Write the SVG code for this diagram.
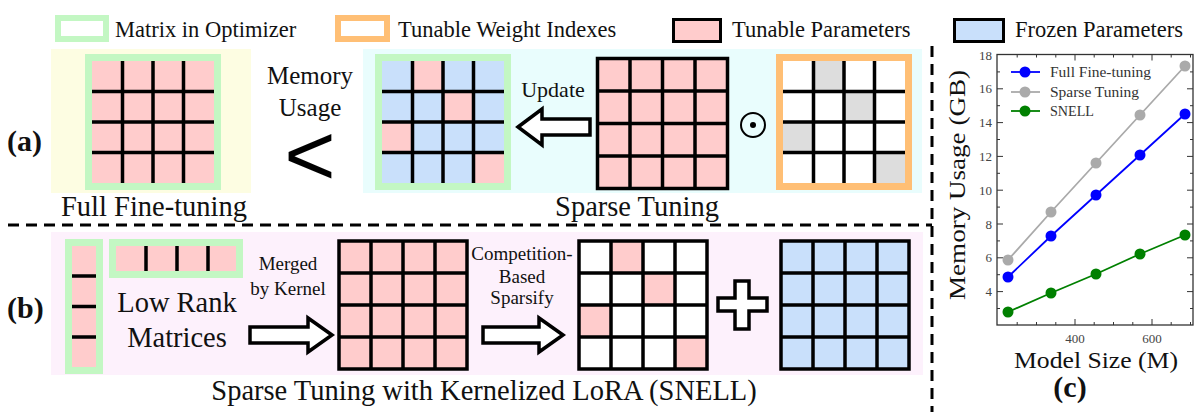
<svg xmlns="http://www.w3.org/2000/svg" width="1200" height="412" viewBox="0 0 1200 412">
<style>
.t{font-family:"Liberation Serif","Times New Roman",serif;fill:#111}
.b{font-weight:bold}
.pk{fill:#ffcccc}
.bl{fill:#c9e0fb}
.wh{fill:#ffffff}
.gy{fill:#dddddd}
.gl{stroke:#000;stroke-width:3.5;fill:none}
.ob{stroke:#000;stroke-width:3.5;fill:none}
.gr{fill:none;stroke:#c3f7c3;stroke-width:7}
.og{fill:none;stroke:#ffbf75;stroke-width:7}
.ar{fill:#fff;stroke:#000;stroke-width:3.5;stroke-linejoin:miter}
.dash{stroke:#000;stroke-width:3;stroke-dasharray:11 7;fill:none}
.ax{fill:none;stroke:#333;stroke-width:1.3}
.tk{stroke:#333;stroke-width:1}
.tl{font-family:"Liberation Serif","Times New Roman",serif;font-size:13px;fill:#444}
.lg{font-family:"Liberation Serif","Times New Roman",serif;font-size:14px;fill:#333}
</style>

<!-- Legend -->
<g id="legend">
  <rect x="58" y="18" width="48" height="21" fill="#fff" stroke="#c3f7c3" stroke-width="6"/>
  <text class="t" x="115" y="37" font-size="22.5">Matrix in Optimizer</text>
  <rect x="338" y="18" width="49" height="21" fill="#fff" stroke="#ffbf75" stroke-width="6"/>
  <text class="t" x="398" y="37" font-size="22.5">Tunable Weight Indexes</text>
  <rect x="673.5" y="19.5" width="47" height="22" class="pk" stroke="#000" stroke-width="3"/>
  <text class="t" x="732" y="37" font-size="22.5">Tunable Parameters</text>
  <rect x="954.5" y="19.5" width="49" height="22" class="bl" stroke="#000" stroke-width="3"/>
  <text class="t" x="1015" y="37" font-size="22.5">Frozen Parameters</text>
</g>

<!-- Backgrounds -->
<rect x="51" y="49" width="200" height="144" fill="#fdfde2"/>
<rect x="363" y="49" width="559" height="144" fill="#e9fdfd"/>
<rect x="51" y="232" width="872" height="143" fill="#fdf1fc"/>

<!-- separators -->
<g id="separators">
  <line class="dash" x1="8" y1="225" x2="932" y2="225"/>
  <line class="dash" x1="932" y1="46" x2="932" y2="412" stroke-dasharray="13 8"/>
</g>

<!-- Panel (a) -->
<text class="t b" x="7" y="151" font-size="30">(a)</text>

<g id="full-ft-matrix">
  <rect x="88.5" y="57.5" width="129" height="129" class="pk"/>
  <path class="gl" d="M122.5,61V183M153,61V183M183.5,61V183M92,91.5H214M92,122H214M92,152.5H214"/>
  <rect x="88.5" y="57.5" width="129" height="129" class="gr"/>
</g>
<text class="t" x="154" y="216" font-size="28.5" text-anchor="middle">Full Fine-tuning</text>

<g id="memory-usage">
  <text class="t" x="310" y="84" font-size="25" text-anchor="middle">Memory</text>
  <text class="t" x="310" y="116" font-size="25" text-anchor="middle">Usage</text>
  <text x="310" y="185" font-size="88" text-anchor="middle" font-family="Liberation Sans, Arial, sans-serif" fill="#000">&lt;</text>
</g>

<g id="sparse-a-matrix">
  <rect x="378.5" y="57.5" width="129" height="129" class="bl"/>
  <rect x="412.5" y="61" width="30.5" height="30.5" class="pk"/>
  <rect x="443" y="91.5" width="30.5" height="30.5" class="pk"/>
  <rect x="382" y="122" width="30.5" height="30.5" class="pk"/>
  <rect x="473.5" y="152.5" width="30.5" height="30.5" class="pk"/>
  <path class="gl" d="M412.5,61V183M443,61V183M473.5,61V183M382,91.5H504M382,122H504M382,152.5H504"/>
  <rect x="378.5" y="57.5" width="129" height="129" class="gr"/>
</g>

<g id="update">
  <text class="t" x="553" y="97" font-size="22" text-anchor="middle">Update</text>
  <path class="ar" d="M518,127 L542,109 L542,119 L590,119 L590,135 L542,135 L542,145 Z"/>
</g>

<g id="tunable-a-matrix">
  <rect x="597.5" y="58.5" width="130" height="130" class="pk"/>
  <path class="gl" d="M630,58.5V188.5M662.5,58.5V188.5M695,58.5V188.5M597.5,91H727.5M597.5,123.5H727.5M597.5,156H727.5"/>
  <rect x="597.5" y="58.5" width="130" height="130" class="ob" stroke-width="4"/>
</g>

<g id="odot">
  <circle cx="753" cy="125" r="12" fill="none" stroke="#000" stroke-width="2"/>
  <circle cx="753" cy="125" r="3" fill="#000"/>
</g>

<g id="index-matrix">
  <rect x="779.5" y="57.5" width="129" height="129" class="wh"/>
  <rect x="813.5" y="61" width="30.5" height="30.5" class="gy"/>
  <rect x="844" y="91.5" width="30.5" height="30.5" class="gy"/>
  <rect x="783" y="122" width="30.5" height="30.5" class="gy"/>
  <rect x="874.5" y="152.5" width="30.5" height="30.5" class="gy"/>
  <path class="gl" d="M813.5,61V183M844,61V183M874.5,61V183M783,91.5H905M783,122H905M783,152.5H905"/>
  <rect x="779.5" y="57.5" width="129" height="129" class="og"/>
</g>
<text class="t" x="637" y="216" font-size="28.5" text-anchor="middle">Sparse Tuning</text>

<!-- Panel (b) -->
<text class="t b" x="7" y="318" font-size="30">(b)</text>

<g id="lowrank-vertical">
  <rect x="68.5" y="242.5" width="31" height="128" class="pk"/>
  <path class="gl" d="M72,276H96M72,306.5H96M72,337H96"/>
  <rect x="68.5" y="242.5" width="31" height="128" class="gr"/>
</g>
<g id="lowrank-horizontal">
  <rect x="112.5" y="242.5" width="127" height="32" class="pk"/>
  <path class="gl" d="M146,246V271M177,246V271M208,246V271"/>
  <rect x="112.5" y="242.5" width="127" height="32" class="gr"/>
</g>
<text class="t" x="177" y="312" font-size="28.5" text-anchor="middle">Low Rank</text>
<text class="t" x="177" y="347" font-size="28.5" text-anchor="middle">Matrices</text>

<g id="merge-arrow">
  <text class="t" x="288" y="270" font-size="19" text-anchor="middle">Merged</text>
  <text class="t" x="288" y="295" font-size="19" text-anchor="middle">by Kernel</text>
  <path class="ar" d="M332,335 L308,318 L308,327 L250,327 L250,343 L308,343 L308,352 Z"/>
</g>

<g id="merged-matrix">
  <rect x="339" y="241" width="128" height="128" class="pk"/>
  <path class="gl" d="M371,241V369M403,241V369M435,241V369M339,273H467M339,305H467M339,337H467"/>
  <rect x="339" y="241" width="128" height="128" class="ob" stroke-width="4"/>
</g>

<g id="sparsify-arrow">
  <text class="t" x="522" y="260" font-size="19" text-anchor="middle">Competition-</text>
  <text class="t" x="522" y="283" font-size="19" text-anchor="middle">Based</text>
  <text class="t" x="522" y="304" font-size="19" text-anchor="middle">Sparsify</text>
  <path class="ar" d="M563,335 L539,318 L539,327 L483,327 L483,343 L539,343 L539,352 Z"/>
</g>

<g id="sparse-b-matrix">
  <rect x="579" y="241" width="128" height="128" class="wh"/>
  <rect x="611" y="241" width="32" height="32" class="pk"/>
  <rect x="643" y="273" width="32" height="32" class="pk"/>
  <rect x="579" y="305" width="32" height="32" class="pk"/>
  <rect x="675" y="337" width="32" height="32" class="pk"/>
  <path class="gl" d="M611,241V369M643,241V369M675,241V369M579,273H707M579,305H707M579,337H707"/>
  <rect x="579" y="241" width="128" height="128" class="ob" stroke-width="4"/>
</g>

<g id="plus">
  <path class="ar" d="M735,281 H749 V298 H767 V311 H749 V329 H735 V311 H718 V298 H735 Z"/>
</g>

<g id="frozen-matrix">
  <rect x="781" y="241" width="128" height="128" class="bl"/>
  <path class="gl" d="M813,241V369M845,241V369M877,241V369M781,273H909M781,305H909M781,337H909"/>
  <rect x="781" y="241" width="128" height="128" class="ob" stroke-width="4"/>
</g>
<text class="t" x="484" y="400" font-size="28.5" text-anchor="middle">Sparse Tuning with Kernelized LoRA (SNELL)</text>

<!-- Panel (c) chart -->
<g id="chart">
  <rect class="ax" x="997" y="54.5" width="196" height="270.5"/>
  <!-- y ticks major -->
  <path class="tk" d="M997,88.8h6M997,122.6h6M997,156.4h6M997,190.2h6M997,224h6M997,257.8h6M997,291.6h6
    M1193,88.8h-6M1193,122.6h-6M1193,156.4h-6M1193,190.2h-6M1193,224h-6M1193,257.8h-6M1193,291.6h-6"/>
  <!-- y ticks minor -->
  <path class="tk" d="M997,71.9h3M997,105.7h3M997,139.5h3M997,173.3h3M997,207.1h3M997,240.9h3M997,274.7h3M997,308.5h3
    M1193,71.9h-3M1193,105.7h-3M1193,139.5h-3M1193,173.3h-3M1193,207.1h-3M1193,240.9h-3M1193,274.7h-3M1193,308.5h-3"/>
  <!-- x ticks -->
  <path class="tk" d="M1075,325v-6M1152,325v-6M1075,54.5v6M1152,54.5v6
    M1017.2,325v-3M1036.5,325v-3M1055.8,325v-3M1094.2,325v-3M1113.5,325v-3M1132.8,325v-3M1171.2,325v-3M1190.5,325v-3
    M1017.2,54.5v3M1036.5,54.5v3M1055.8,54.5v3M1094.2,54.5v3M1113.5,54.5v3M1132.8,54.5v3M1171.2,54.5v3M1190.5,54.5v3"/>
  <!-- tick labels -->
  <g class="tl" text-anchor="end">
    <text x="992" y="59.5">18</text>
    <text x="992" y="93.3">16</text>
    <text x="992" y="127.1">14</text>
    <text x="992" y="160.9">12</text>
    <text x="992" y="194.7">10</text>
    <text x="992" y="228.5">8</text>
    <text x="992" y="262.3">6</text>
    <text x="992" y="296.1">4</text>
  </g>
  <g class="tl" text-anchor="middle">
    <text x="1075" y="343">400</text>
    <text x="1152" y="343">600</text>
  </g>
  <!-- series -->
  <g id="series-gray" fill="#aaaaaa">
    <polyline points="1008,260 1051,212 1096,163 1140,115 1185,66" fill="none" stroke="#aaaaaa" stroke-width="1.8"/>
    <circle cx="1008" cy="260" r="5.5"/><circle cx="1051" cy="212" r="5.5"/><circle cx="1096" cy="163" r="5.5"/><circle cx="1140" cy="115" r="5.5"/><circle cx="1185" cy="66" r="5.5"/>
  </g>
  <g id="series-blue" fill="#0000ff">
    <polyline points="1008,277 1051,236 1096,195 1140,155 1185,114" fill="none" stroke="#0000ff" stroke-width="1.8"/>
    <circle cx="1008" cy="277" r="5.5"/><circle cx="1051" cy="236" r="5.5"/><circle cx="1096" cy="195" r="5.5"/><circle cx="1140" cy="155" r="5.5"/><circle cx="1185" cy="114" r="5.5"/>
  </g>
  <g id="series-green" fill="#008000">
    <polyline points="1008,312 1051,293 1096,274 1140,254 1185,235" fill="none" stroke="#008000" stroke-width="1.8"/>
    <circle cx="1008" cy="312" r="5.5"/><circle cx="1051" cy="293" r="5.5"/><circle cx="1096" cy="274" r="5.5"/><circle cx="1140" cy="254" r="5.5"/><circle cx="1185" cy="235" r="5.5"/>
  </g>
  <!-- chart legend -->
  <g id="chart-legend">
    <line x1="1011" y1="72" x2="1040" y2="72" stroke="#0000ff" stroke-width="1.8"/>
    <circle cx="1025" cy="72" r="5.5" fill="#0000ff"/>
    <text class="lg" x="1050" y="77" textLength="101" lengthAdjust="spacingAndGlyphs">Full Fine-tuning</text>
    <line x1="1011" y1="92" x2="1040" y2="92" stroke="#aaaaaa" stroke-width="1.8"/>
    <circle cx="1025" cy="92" r="5.5" fill="#aaaaaa"/>
    <text class="lg" x="1050" y="97" textLength="89" lengthAdjust="spacingAndGlyphs">Sparse Tuning</text>
    <line x1="1011" y1="111" x2="1040" y2="111" stroke="#008000" stroke-width="1.8"/>
    <circle cx="1025" cy="111" r="5.5" fill="#008000"/>
    <text class="lg" x="1050" y="116" textLength="44" lengthAdjust="spacingAndGlyphs">SNELL</text>
  </g>
  <!-- axis labels -->
  <text class="t" x="0" y="0" font-size="23" fill="#222" text-anchor="middle" transform="translate(965,185) rotate(-90)" textLength="230" lengthAdjust="spacingAndGlyphs">Memory Usage (GB)</text>
  <text class="t" x="1096" y="368" font-size="23" fill="#222" text-anchor="middle" textLength="164" lengthAdjust="spacingAndGlyphs">Model Size (M)</text>
  <text class="t b" x="1070" y="397" font-size="30" text-anchor="middle">(c)</text>
</g>
</svg>
